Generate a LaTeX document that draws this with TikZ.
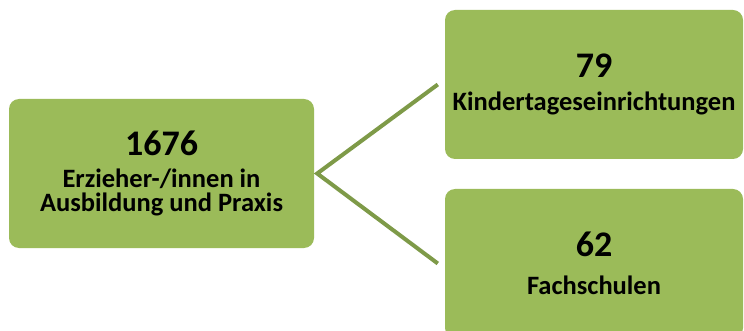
\documentclass[tikz,border=0pt]{standalone}
\usepackage{fontspec}
\setmainfont{Carlito}
\usetikzlibrary{positioning}
\definecolor{boxgreen}{HTML}{9BBB59}
\definecolor{linegreen}{HTML}{7E9A48}

\begin{document}
\begin{tikzpicture}[x=1pt, y=-1pt,
    box/.style={fill=boxgreen, rounded corners=10pt, minimum height=149pt,
      inner sep=0pt, align=center, font=\bfseries\fontsize{26.5}{24.5}\selectfont},
    link/.style={draw=linegreen, line width=4pt}]
  \useasboundingbox (0,0) rectangle (744,331);
  \clip (0,0) rectangle (744,331);

  % boxes
  \node[box, minimum width=305pt] (azubi) at (161.5,173.5)
    {{\fontsize{36}{36}\selectfont 1676}\\[7pt]Erzieher-/innen in\\Ausbildung und Praxis};
  \node[box, minimum width=298pt] (kita) at (594,84.5)
    {{\fontsize{36}{36}\selectfont 79}\\[9pt]Kindertageseinrichtungen};
  \node[box, minimum width=298pt] (schule) at (594,263.5)
    {{\fontsize{36}{36}\selectfont 62}\\[13pt]Fachschulen};

  % fork
  \coordinate (fork) at ([xshift=3pt]azubi.east);
  \draw[link] ([xshift=-7pt]kita.west) -- (fork) -- ([xshift=-7pt]schule.west);
\end{tikzpicture}
\end{document}
